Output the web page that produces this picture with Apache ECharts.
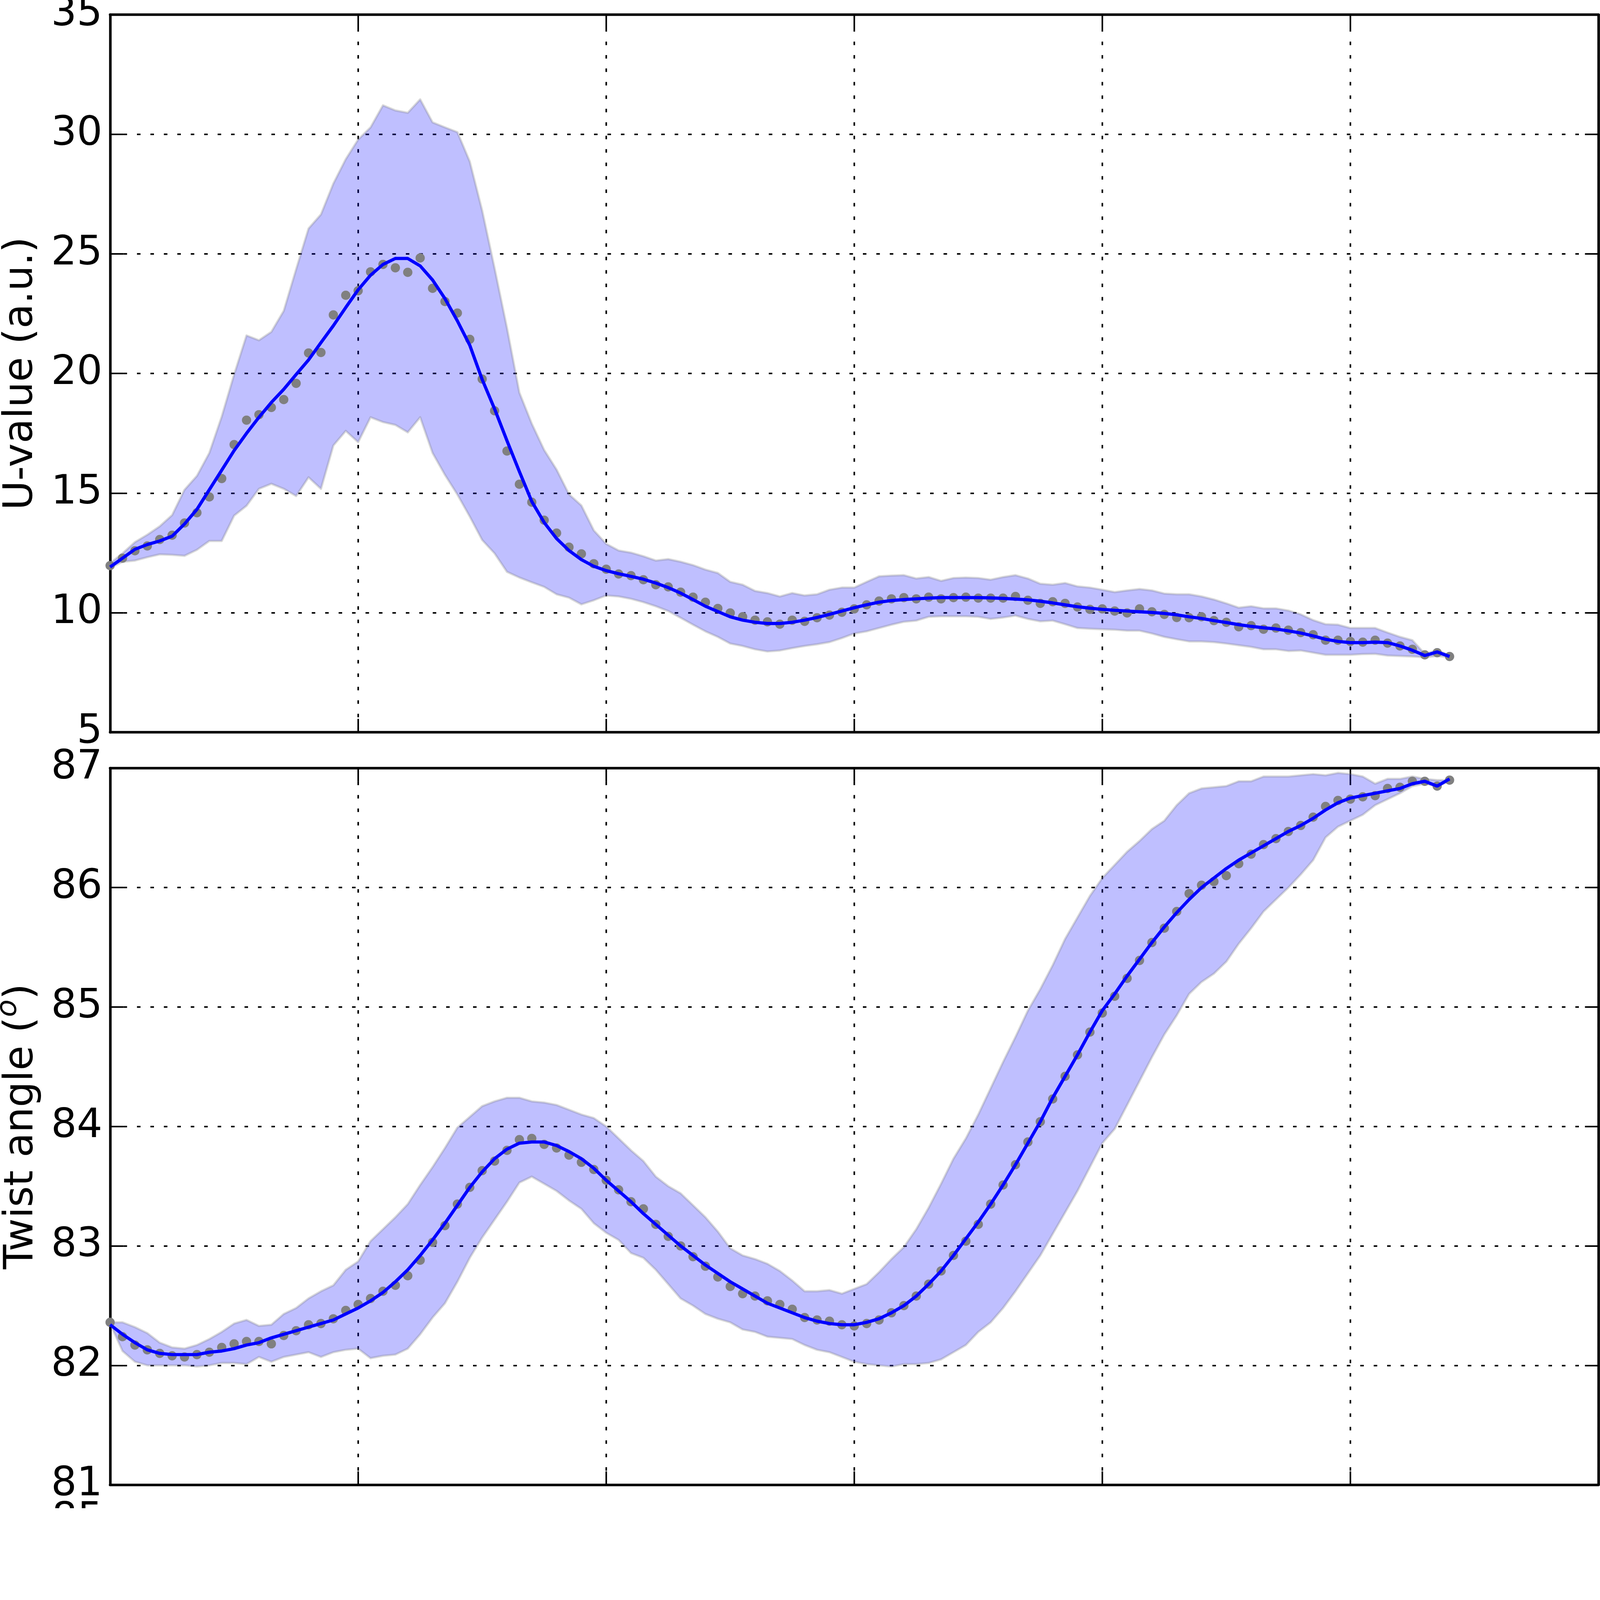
<!DOCTYPE html>
<html>
<head>
<meta charset="utf-8">
<script src="https://cdn.jsdelivr.net/npm/echarts@6/dist/echarts.min.js"></script>
<style>
html,body{margin:0;padding:0;background:#fff;overflow:hidden;}
#chart{position:absolute;left:0;top:0;}
</style>
</head>
<body>
<div id="chart"></div>
<script>
// ---------- data (x = sample index 0..108, axis 0..120) ----------
const uTicks = [5, 10, 15, 20, 25, 30, 35];
const tTicks = [81, 82, 83, 84, 85, 86, 87];

const uMean = [11.97,12.28,12.59,12.79,13.06,13.24,13.75,14.18,14.84,15.61,17.03,18.05,18.28,18.58,18.91,19.59,20.86,20.88,22.45,23.27,23.46,24.25,24.56,24.42,24.23,24.83,23.56,23.01,22.53,21.43,19.77,18.44,16.76,15.37,14.62,13.87,13.33,12.74,12.46,12.05,11.82,11.62,11.55,11.38,11.17,11.08,10.86,10.65,10.44,10.18,9.99,9.83,9.69,9.62,9.52,9.69,9.64,9.79,9.90,10.02,10.16,10.33,10.49,10.58,10.63,10.58,10.65,10.58,10.63,10.65,10.61,10.61,10.61,10.68,10.52,10.39,10.46,10.39,10.24,10.14,10.16,10.07,9.99,10.16,10.04,9.93,9.80,9.79,9.83,9.67,9.60,9.41,9.46,9.31,9.36,9.27,9.17,9.08,8.85,8.85,8.80,8.77,8.85,8.73,8.61,8.47,8.24,8.33,8.17];
const uFit = [11.91,12.28,12.65,12.85,13.00,13.20,13.71,14.32,15.14,15.96,16.78,17.50,18.17,18.79,19.34,19.96,20.57,21.29,22.00,22.76,23.50,24.11,24.56,24.81,24.81,24.50,23.91,23.13,22.20,21.18,19.75,18.52,17.19,15.90,14.65,13.77,13.10,12.60,12.22,11.94,11.76,11.63,11.52,11.40,11.24,11.05,10.82,10.55,10.27,10.05,9.83,9.69,9.60,9.55,9.55,9.60,9.69,9.80,9.93,10.07,10.21,10.33,10.44,10.51,10.55,10.58,10.61,10.63,10.63,10.63,10.63,10.62,10.60,10.57,10.54,10.48,10.41,10.33,10.25,10.19,10.14,10.10,10.07,10.04,10.01,9.97,9.91,9.83,9.76,9.67,9.59,9.50,9.43,9.37,9.32,9.24,9.15,9.03,8.89,8.80,8.75,8.75,8.77,8.75,8.61,8.43,8.21,8.36,8.17];
const uUpper = [12.07,12.48,12.95,13.26,13.61,14.08,15.14,15.72,16.68,18.20,19.96,21.59,21.39,21.74,22.62,24.36,26.06,26.65,27.94,28.96,29.78,30.29,31.21,31.00,30.90,31.46,30.50,30.29,30.09,28.86,26.81,24.40,21.90,19.20,17.90,16.80,15.98,14.95,14.48,13.44,12.88,12.60,12.51,12.36,12.18,12.24,12.13,11.99,11.80,11.66,11.29,11.17,10.91,10.82,10.68,10.82,10.72,10.77,10.96,11.05,11.05,11.29,11.52,11.55,11.57,11.43,11.49,11.33,11.45,11.47,11.45,11.38,11.49,11.57,11.43,11.21,11.17,11.24,11.10,11.05,10.96,10.86,10.93,10.99,10.93,10.80,10.77,10.77,10.68,10.55,10.39,10.21,10.27,10.18,10.18,10.09,9.93,9.69,9.52,9.50,9.36,9.36,9.36,9.17,8.99,8.85,8.28,8.43,8.21];
const uLower = [11.87,12.13,12.18,12.32,12.44,12.42,12.38,12.63,13.00,13.00,14.06,14.47,15.18,15.39,15.18,14.88,15.66,15.18,16.99,17.60,17.13,18.17,17.97,17.85,17.54,18.17,16.68,15.76,14.94,14.02,13.04,12.48,11.71,11.47,11.27,11.08,10.77,10.63,10.35,10.52,10.72,10.68,10.58,10.44,10.27,10.07,9.79,9.50,9.22,8.99,8.71,8.61,8.47,8.38,8.42,8.52,8.61,8.68,8.77,8.94,9.13,9.22,9.36,9.50,9.62,9.67,9.83,9.85,9.85,9.85,9.83,9.74,9.80,9.88,9.74,9.64,9.67,9.52,9.36,9.33,9.31,9.29,9.25,9.25,9.13,8.99,8.89,8.80,8.80,8.77,8.71,8.64,8.57,8.47,8.47,8.40,8.42,8.33,8.24,8.24,8.24,8.27,8.28,8.21,8.19,8.17,8.14,8.19,8.14];

const tMean = [82.36,82.24,82.17,82.13,82.10,82.08,82.07,82.09,82.11,82.15,82.18,82.20,82.20,82.18,82.25,82.29,82.34,82.35,82.39,82.46,82.51,82.56,82.62,82.67,82.75,82.88,83.03,83.17,83.35,83.49,83.63,83.71,83.80,83.89,83.90,83.85,83.82,83.76,83.70,83.64,83.55,83.47,83.37,83.31,83.18,83.08,83.00,82.91,82.83,82.74,82.66,82.60,82.58,82.54,82.51,82.47,82.40,82.38,82.37,82.34,82.33,82.35,82.38,82.44,82.50,82.58,82.68,82.79,82.92,83.04,83.18,83.35,83.51,83.68,83.87,84.04,84.23,84.42,84.60,84.79,84.95,85.09,85.24,85.39,85.54,85.66,85.80,85.95,86.02,86.05,86.10,86.20,86.28,86.36,86.41,86.47,86.52,86.59,86.68,86.73,86.74,86.76,86.77,86.83,86.84,86.89,86.89,86.85,86.90];
const tFit = [82.34,82.26,82.19,82.13,82.10,82.09,82.09,82.09,82.11,82.12,82.14,82.17,82.19,82.23,82.26,82.29,82.32,82.35,82.38,82.43,82.48,82.54,82.61,82.70,82.80,82.92,83.05,83.19,83.34,83.49,83.62,83.73,83.81,83.86,83.87,83.87,83.84,83.79,83.73,83.65,83.55,83.46,83.37,83.27,83.18,83.09,83.00,82.92,82.84,82.77,82.70,82.64,82.58,82.52,82.48,82.44,82.40,82.37,82.35,82.34,82.34,82.36,82.39,82.44,82.50,82.58,82.68,82.79,82.92,83.06,83.20,83.35,83.51,83.68,83.86,84.04,84.24,84.42,84.60,84.79,84.97,85.11,85.26,85.40,85.54,85.67,85.79,85.90,86.00,86.08,86.16,86.23,86.29,86.35,86.41,86.47,86.52,86.58,86.65,86.71,86.75,86.77,86.79,86.81,86.83,86.87,86.89,86.85,86.91];
const tUpper = [82.36,82.36,82.32,82.27,82.19,82.15,82.14,82.17,82.22,82.28,82.35,82.38,82.33,82.34,82.43,82.48,82.56,82.62,82.67,82.80,82.87,83.04,83.14,83.24,83.35,83.51,83.66,83.82,83.99,84.08,84.17,84.21,84.24,84.24,84.21,84.20,84.18,84.14,84.10,84.07,84.00,83.90,83.80,83.71,83.58,83.50,83.44,83.34,83.24,83.12,82.98,82.92,82.89,82.85,82.79,82.71,82.62,82.62,82.63,82.60,82.64,82.68,82.78,82.89,82.99,83.14,83.32,83.52,83.73,83.90,84.10,84.32,84.54,84.75,84.97,85.15,85.35,85.57,85.75,85.93,86.08,86.19,86.30,86.39,86.49,86.56,86.69,86.79,86.83,86.84,86.85,86.89,86.89,86.93,86.93,86.93,86.94,86.95,86.94,86.96,86.95,86.93,86.87,86.91,86.91,86.93,86.91,86.90,86.90];
const tLower = [82.35,82.12,82.03,82.00,82.00,82.00,82.00,81.99,82.00,82.02,82.02,82.01,82.07,82.03,82.07,82.09,82.11,82.07,82.11,82.13,82.14,82.06,82.08,82.09,82.14,82.26,82.40,82.52,82.70,82.90,83.07,83.22,83.37,83.53,83.58,83.52,83.46,83.38,83.31,83.19,83.11,83.05,82.94,82.90,82.80,82.68,82.56,82.50,82.43,82.39,82.36,82.30,82.28,82.24,82.23,82.22,82.17,82.13,82.11,82.07,82.03,82.01,82.00,81.99,82.01,82.01,82.02,82.05,82.11,82.17,82.28,82.36,82.48,82.62,82.77,82.92,83.10,83.28,83.46,83.66,83.86,83.98,84.18,84.38,84.58,84.77,84.93,85.11,85.21,85.28,85.38,85.53,85.66,85.80,85.90,86.00,86.11,86.23,86.42,86.51,86.56,86.61,86.69,86.74,86.79,86.85,86.87,86.85,86.89];

// ---------- sizing (fit the design 4999x4712 into the actual viewport) ----------
const VW = window.innerWidth || 4999, VH = window.innerHeight || 4712;
const k = Math.min(VW / 4999, VH / 4712);
const s = v => v * k;
const el = document.getElementById('chart');
el.style.width = s(4999) + 'px';
el.style.height = s(4712) + 'px';

// ---------- helpers ----------
const pairs = arr => arr.map((v, i) => [i, v]);

const FONT = 'DejaVu Sans';
const FS = s(126);
const BLACK = '#000';
const gridLine = { show: true, lineStyle: { color: BLACK, width: s(5), type: [s(11), s(31)] } };
const tick = { show: true, inside: true, length: s(42), lineStyle: { color: BLACK, width: s(5) } };
const spine = { show: true, onZero: false, lineStyle: { color: BLACK, width: s(8) } };

function xAx(gi, pos, main) {
  return {
    type: 'value', gridIndex: gi, position: pos, min: 0, max: 120, interval: 20,
    axisLine: spine, axisTick: tick, axisLabel: { show: false },
    splitLine: main ? gridLine : { show: false }
  };
}
function yAx(gi, pos, main, ticks, extra) {
  const lo = ticks[0], hi = ticks[ticks.length - 1], step = ticks[1] - ticks[0];
  return Object.assign({
    type: 'value', gridIndex: gi, position: pos, min: lo, max: hi, interval: step,
    axisLine: spine, axisTick: tick,
    axisLabel: main ? { show: true, color: BLACK, fontFamily: FONT, fontSize: FS, margin: s(24),
      showMinLabel: true, showMaxLabel: true, hideOverlap: false } : { show: false },
    splitLine: main ? gridLine : { show: false }
  }, extra || {});
}

function bandSeries(xi, yi, upper, lower) {
  return {
    type: 'custom', xAxisIndex: xi, yAxisIndex: yi, silent: true, z: 1,
    data: pairs(upper), encode: { x: 0, y: 1 },
    renderItem: function (params, api) {
      if (params.dataIndex !== 0) return null;
      const pts = [];
      for (let i = 0; i < upper.length; i++) pts.push(api.coord([i, upper[i]]));
      for (let i = lower.length - 1; i >= 0; i--) pts.push(api.coord([i, lower[i]]));
      return {
        type: 'polygon', shape: { points: pts },
        style: { fill: 'rgba(0,0,255,0.25)', stroke: 'rgba(128,128,128,0.3)', lineWidth: s(7), lineJoin: 'round' }
      };
    }
  };
}
function panelSeries(xi, yi, mean, fit, upper, lower) {
  return [
    bandSeries(xi, yi, upper, lower),
    { type: 'scatter', xAxisIndex: xi, yAxisIndex: yi, data: pairs(mean),
      symbol: 'circle', symbolSize: s(29), itemStyle: { color: '#808080', opacity: 1 }, z: 2, silent: true },
    { type: 'line', xAxisIndex: xi, yAxisIndex: yi, data: pairs(fit), symbol: 'none',
      lineStyle: { color: '#0000ff', width: s(10) }, z: 3, silent: true }
  ];
}

const chart = echarts.init(el, null, { renderer: 'canvas' });
chart.setOption({
  animation: false,
  backgroundColor: '#fff',
  grid: [
    { left: s(344), top: s(46), width: s(4650), height: s(2242), outerBoundsMode: 'none', containLabel: false },
    { left: s(344), top: s(2400), width: s(4650), height: s(2239), outerBoundsMode: 'none', containLabel: false }
  ],
  xAxis: [xAx(0, 'bottom', true), xAx(0, 'top', false), xAx(1, 'bottom', true), xAx(1, 'top', false)],
  yAxis: [
    yAx(0, 'left', true, uTicks, {
      name: 'U-value (a.u.)', nameLocation: 'middle', nameRotate: 90, nameGap: s(214), nameMoveOverlap: false,
      nameTextStyle: { color: BLACK, fontFamily: FONT, fontSize: FS }
    }),
    yAx(0, 'right', false, uTicks),
    yAx(1, 'left', true, tTicks, {
      name: '{n|Twist angle (}{s|o}{n|)}', nameLocation: 'middle', nameRotate: 90, nameGap: s(213), nameMoveOverlap: false,
      nameTextStyle: { color: BLACK, fontFamily: FONT, fontSize: FS,
        rich: {
          n: { fontFamily: FONT, fontSize: FS, lineHeight: s(126), color: BLACK },
          s: { fontFamily: FONT, fontSize: s(90), fontStyle: 'italic', lineHeight: s(90), padding: [0, 0, s(82), 0], color: BLACK }
        } }
    }),
    yAx(1, 'right', false, tTicks)
  ],
  graphic: [
    { type: 'text', x: s(322), y: s(4750), silent: true,
      style: { text: '85', align: 'right', verticalAlign: 'middle', fontFamily: FONT, fontSize: FS, fill: BLACK } }
  ],
  series: [].concat(
    panelSeries(0, 0, uMean, uFit, uUpper, uLower),
    panelSeries(2, 2, tMean, tFit, tUpper, tLower)
  )
});
</script>
</body>
</html>
